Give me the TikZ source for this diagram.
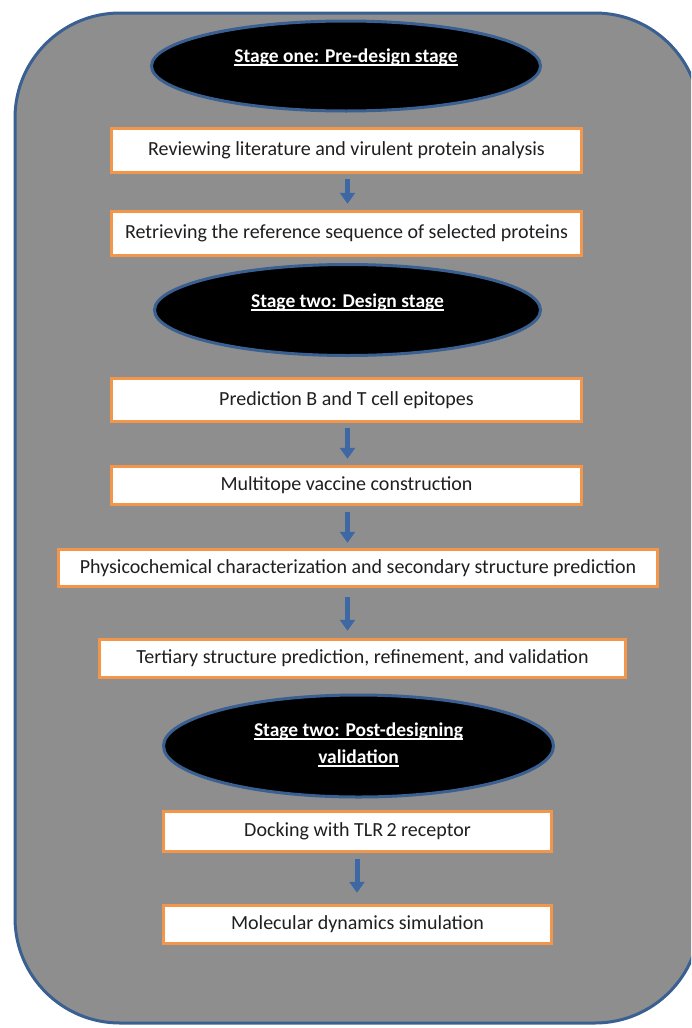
\documentclass[tikz,border=0pt]{standalone}
\usepackage{fontspec}
\setmainfont{Carlito}
\usetikzlibrary{arrows.meta,shapes.geometric}
\definecolor{panel}{RGB}{142,142,142}
\definecolor{panelline}{RGB}{58,95,145}
\definecolor{boxline}{RGB}{242,150,75}
\definecolor{arrowblue}{RGB}{62,104,164}
\newcommand\stul[1]{\setbox0\hbox{#1}\rlap{\rule[-3.5pt]{\wd0}{1.3pt}}\box0}
\tikzset{
  panelbox/.style={draw=panelline, fill=panel, line width=3pt, rounded corners=105pt},
  stepbox/.style={draw=boxline, fill=white, line width=3.5pt, rectangle, inner sep=0pt,
    font=\fontsize{20}{24}\selectfont, text=black!88},
  stage/.style={ellipse, draw=panelline, fill=black, line width=3pt, inner sep=0pt},
  stagetext/.style={text=white, font=\fontsize{19.5}{24}\selectfont\bfseries, align=center},
  flow/.style={draw=arrowblue, line width=5pt, -{Triangle[width=15pt,length=11pt]}},
}
\begin{document}
\begin{tikzpicture}[x=1pt,y=-1pt]
\useasboundingbox (0,0) rectangle (691,1028);
\clip (0,0) rectangle (691,1028);
\fill[white] (0,0) rectangle (691,1028);
\draw[panelbox] (15,13) rectangle (700,1023);

\coordinate (colA) at (347.5,0);
\coordinate (colB) at (357,0);

\node[stage, minimum width=389pt, minimum height=90pt,
  label={[stagetext, yshift=9pt]center:\stul{Stage one: Pre-design stage}}] (s1) at (346,66) {};
\node[stepbox, minimum width=470pt, minimum height=44pt] (b1) at (346.5,150.5) {Reviewing literature and virulent protein analysis};
\node[stepbox, minimum width=470pt, minimum height=44pt] (b2) at (346.5,233.5) {Retrieving the reference sequence of selected proteins};

\node[stage, minimum width=386pt, minimum height=91pt,
  label={[stagetext, yshift=8pt]center:\stul{Stage two: Design stage}}] (s2) at (347.5,310) {};
\node[stepbox, minimum width=470pt, minimum height=43pt] (b3) at (346.5,400) {Prediction B and T cell epitopes};
\node[stepbox, minimum width=470pt, minimum height=38pt] (b4) at (346.5,485.5) {Multitope vaccine construction};
\node[stepbox, minimum width=599pt, minimum height=37pt] (b5) at (358,568) {Physicochemical characterization and secondary structure prediction};
\node[stepbox, minimum width=526pt, minimum height=38pt] (b6) at (362.5,658.5) {Tertiary structure prediction, refinement, and validation};

\node[stage, minimum width=390pt, minimum height=102pt,
  label={[stagetext, yshift=1.5pt]center:\stul{Stage two: Post-designing}\\[3pt]\stul{validation}}] (s3) at (358.5,746) {};
\node[stepbox, minimum width=388pt, minimum height=40pt] (b7) at (357.5,831.5) {Docking with TLR\,2 receptor};
\node[stepbox, minimum width=388pt, minimum height=38pt] (b8) at (357.5,924.5) {Molecular dynamics simulation};

\draw[flow] ([yshift=-5pt]b1.south -| colA) -- ([yshift=6pt]b2.north -| colA);
\draw[flow] ([yshift=-5pt]b3.south -| colA) -- ([yshift=6pt]b4.north -| colA);
\draw[flow] ([yshift=-6pt]b4.south -| colA) -- ([yshift=5pt]b5.north -| colA);
\draw[flow] ([yshift=-9pt]b5.south -| colA) -- ([yshift=7pt]b6.north -| colA);
\draw[flow] ([yshift=-6pt]b7.south -| colB) -- ([yshift=11pt]b8.north -| colB);
\end{tikzpicture}
\end{document}
